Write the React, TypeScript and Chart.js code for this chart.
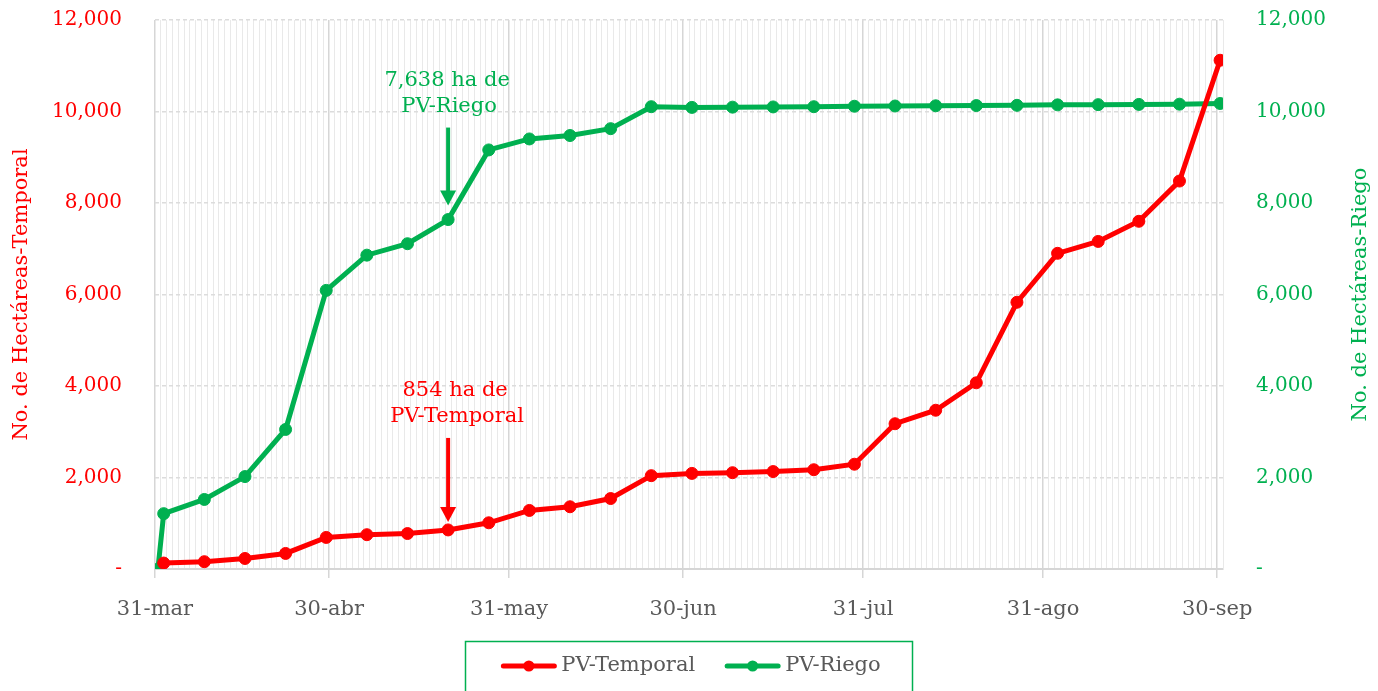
import React, { useEffect, useRef } from 'react';
import { Chart, registerables } from 'chart.js';

Chart.register(...registerables);

const RED = '#FF0000';
const GREEN = '#00B050';
const GRAY_TEXT = '#595959';
const FONT = 'DejaVu Serif';

// Axis range (date axis, one minor gridline per day)
const AXIS_START = '2023-03-31';
const AXIS_DAYS = 184;

const monthEndDates = ['2023-03-31', '2023-04-30', '2023-05-31', '2023-06-30', '2023-07-31', '2023-08-31', '2023-09-30'];
const monthEndLabels = ['31-mar', '30-abr', '31-may', '30-jun', '31-jul', '31-ago', '30-sep'];

// Report dates
const reportDates = [
  '2023-03-31', '2023-04-01', '2023-04-08', '2023-04-15', '2023-04-22', '2023-04-29',
  '2023-05-06', '2023-05-13', '2023-05-20', '2023-05-27', '2023-06-03', '2023-06-10',
  '2023-06-17', '2023-06-24', '2023-07-01', '2023-07-08', '2023-07-15', '2023-07-22',
  '2023-07-29', '2023-08-05', '2023-08-12', '2023-08-19', '2023-08-26', '2023-09-02',
  '2023-09-09', '2023-09-16', '2023-09-23', '2023-09-30',
];

// Hectares, PV-Temporal (no value on the first date)
const temporalValues: (number | null)[] = [
  null, 130, 160, 230, 340, 690, 750, 775, 854, 1010, 1280, 1360,
  1540, 2040, 2090, 2105, 2130, 2170, 2290, 3175, 3470, 4070, 5830, 6900,
  7160, 7600, 8480, 11120,
];

// Hectares, PV-Riego
const riegoValues: number[] = [
  0, 1210, 1520, 2020, 3050, 6090, 6860, 7110, 7638, 9160, 9400, 9475,
  9625, 10105, 10090, 10095, 10100, 10105, 10115, 10120, 10125, 10130, 10135, 10145,
  10150, 10155, 10160, 10175,
];

const yMin = 0;
const yMax = 12000;
const yStep = 2000;

const seriesNames = ['PV-Temporal', 'PV-Riego'];
const axisTitles = ['No. de Hectáreas-Temporal', 'No. de Hectáreas-Riego'];

const annotationDate = '2023-05-20';
const annotationTexts = {
  riego: ['7,638 ha de', 'PV-Riego'],
  temporal: ['854 ha de', 'PV-Temporal'],
};

const dayOf = (d: string) => Math.round((Date.parse(d) - Date.parse(AXIS_START)) / 86400000);
const majorDays = new Set(monthEndDates.map(dayOf));
const labelByDay = new Map(monthEndDates.map((d, i) => [dayOf(d), monthEndLabels[i]]));

const fmt = (v: number) => (v === 0 ? '-' : v.toLocaleString('en-US'));

const noPad = (scale: any) => {
  scale.paddingTop = 0;
  scale.paddingBottom = 0;
  scale.paddingLeft = 0;
  scale.paddingRight = 0;
};

export default function App() {
  const canvasRef = useRef<HTMLCanvasElement | null>(null);

  useEffect(() => {
    if (!canvasRef.current) return;

    const temporalData = reportDates
      .map((d, i) => ({ x: dayOf(d) + 0.5, y: temporalValues[i] }))
      .filter((p) => p.y !== null);
    const riegoData = reportDates.map((d, i) => ({ x: dayOf(d) + 0.5, y: riegoValues[i] }));

    const annotationPlugin = {
      id: 'arrowNotes',
      afterDatasetsDraw(chart: any) {
        const { ctx, scales } = chart;
        const idx = reportDates.indexOf(annotationDate);
        const notes = [
          { axis: 'y1', value: riegoValues[idx], lines: annotationTexts.riego, color: GREEN, gap: 14, len: 78, dx: 1 },
          { axis: 'y', value: temporalValues[idx] as number, lines: annotationTexts.temporal, color: RED, gap: 8, len: 84, dx: 9 },
        ];
        ctx.save();
        notes.forEach((n) => {
          const x = scales.x.getPixelForValue(dayOf(annotationDate) + 0.5);
          const y = scales[n.axis].getPixelForValue(n.value);
          const tip = y - n.gap;
          const top = tip - n.len;
          const headH = 15;
          const headW = 8;
          ctx.strokeStyle = n.color;
          ctx.fillStyle = n.color;
          ctx.lineWidth = 4;
          ctx.beginPath();
          ctx.moveTo(x, top);
          ctx.lineTo(x, tip - headH + 2);
          ctx.stroke();
          ctx.beginPath();
          ctx.moveTo(x - headW, tip - headH);
          ctx.lineTo(x + headW, tip - headH);
          ctx.lineTo(x, tip);
          ctx.closePath();
          ctx.fill();
          ctx.font = `21px "${FONT}"`;
          ctx.textAlign = 'center';
          ctx.textBaseline = 'middle';
          ctx.fillText(n.lines[1], x + n.dx, top - 21);
          ctx.fillText(n.lines[0], x + n.dx - 2, top - 47);
        });
        ctx.restore();
      },
    };

    const rightTitlePlugin = {
      id: 'rightTitle',
      afterDraw(chart: any) {
        const { ctx, chartArea } = chart;
        ctx.save();
        ctx.translate(1361, (chartArea.top + chartArea.bottom) / 2);
        ctx.rotate(-Math.PI / 2);
        ctx.font = `21px "${FONT}"`;
        ctx.fillStyle = GREEN;
        ctx.textAlign = 'center';
        ctx.textBaseline = 'middle';
        ctx.fillText(axisTitles[1], 0, 0);
        ctx.restore();
      },
    };

    const legendPlugin = {
      id: 'boxLegend',
      afterDraw(chart: any) {
        const { ctx, width } = chart;
        const colors = [RED, GREEN];
        ctx.save();
        ctx.font = `21px "${FONT}"`;
        const lineLen = 55;
        const textGap = 5;
        const itemGap = 30;
        const widths = seriesNames.map((s) => ctx.measureText(s).width);
        const total = widths.reduce((a, w) => a + lineLen + textGap + w, 0) + itemGap;
        const cx = width / 2;
        const boxL = 465.5;
        const boxR = 912.5;
        ctx.strokeStyle = GREEN;
        ctx.lineWidth = 1.5;
        ctx.strokeRect(boxL, 641.5, boxR - boxL, 100);
        let x = cx - total / 2 + 2;
        const y = 666;
        seriesNames.forEach((s, i) => {
          ctx.strokeStyle = colors[i];
          ctx.fillStyle = colors[i];
          ctx.lineWidth = 5;
          ctx.lineCap = 'round';
          ctx.beginPath();
          ctx.moveTo(x + 2, y);
          ctx.lineTo(x + lineLen - 2, y);
          ctx.stroke();
          ctx.beginPath();
          ctx.arc(x + lineLen / 2, y, 5.5, 0, Math.PI * 2);
          ctx.fill();
          ctx.fillStyle = GRAY_TEXT;
          ctx.textAlign = 'left';
          ctx.textBaseline = 'middle';
          ctx.fillText(s, x + lineLen + textGap, y);
          x += lineLen + textGap + widths[i] + itemGap;
        });
        ctx.restore();
      },
    };

    const chart = new Chart(canvasRef.current, {
      type: 'line',
      data: {
        datasets: [
          {
            label: seriesNames[0],
            data: temporalData as any,
            yAxisID: 'y',
            borderColor: RED,
            backgroundColor: RED,
            borderWidth: 5,
            pointRadius: 6,
            pointBorderWidth: 1,
            pointBackgroundColor: RED,
            pointBorderColor: RED,
            tension: 0,
          },
          {
            label: seriesNames[1],
            data: riegoData as any,
            yAxisID: 'y1',
            borderColor: GREEN,
            backgroundColor: GREEN,
            borderWidth: 5,
            pointRadius: 6,
            pointBorderWidth: 1,
            pointBackgroundColor: GREEN,
            pointBorderColor: GREEN,
            tension: 0,
          },
        ],
      },
      options: {
        responsive: false,
        animation: false,
        events: [],
        layout: { padding: { top: 20, left: 0, right: 0, bottom: 0 } },
        plugins: {
          legend: { display: false },
          tooltip: { enabled: false },
        },
        scales: {
          x: {
            type: 'linear',
            min: 0,
            max: AXIS_DAYS,
            afterBuildTicks: (scale: any) => {
              scale.ticks = Array.from({ length: AXIS_DAYS + 1 }, (_, i) => ({ value: i }));
            },
            afterFit: (scale: any) => {
              scale.height = 122;
              noPad(scale);
            },
            ticks: {
              autoSkip: false,
              maxRotation: 0,
              minRotation: 0,
              padding: 19,
              color: GRAY_TEXT,
              font: { family: FONT, size: 21 },
              callback: (v: any) => labelByDay.get(Number(v)) ?? '',
            },
            grid: {
              color: (c: any) => (c.tick && majorDays.has(c.tick.value) ? '#d6d6d6' : '#e9e9e9'),
              lineWidth: (c: any) => (c.tick && majorDays.has(c.tick.value) ? 1.5 : 1),
              tickColor: (c: any) => (c.tick && majorDays.has(c.tick.value) ? '#d6d6d6' : 'rgba(0,0,0,0)'),
              tickLength: 9,
              drawTicks: true,
            },
            border: { display: true, color: '#d6d6d6', width: 2 },
          },
          y: {
            type: 'linear',
            position: 'left',
            min: yMin,
            max: yMax,
            afterFit: (scale: any) => {
              scale.width = 155;
              noPad(scale);
            },
            ticks: {
              stepSize: yStep,
              padding: 33,
              color: RED,
              font: { family: FONT, size: 20 },
              callback: (v: any) => fmt(Number(v)),
            },
            grid: { color: '#dcdcdc', lineWidth: 1.5, drawTicks: false },
            border: { display: false, dash: [4, 3] },
            title: {
              display: true,
              text: axisTitles[0],
              color: RED,
              font: { family: FONT, size: 21 },
              padding: { top: 9, bottom: 0 },
            },
          },
          y1: {
            type: 'linear',
            position: 'right',
            min: yMin,
            max: yMax,
            afterFit: (scale: any) => {
              scale.width = 155;
              noPad(scale);
            },
            ticks: {
              stepSize: yStep,
              padding: 33,
              color: GREEN,
              font: { family: FONT, size: 20 },
              callback: (v: any) => fmt(Number(v)),
            },
            grid: { drawOnChartArea: false, drawTicks: false },
            border: { display: false },
            title: { display: false },
          },
        },
      } as any,
      plugins: [annotationPlugin, rightTitlePlugin, legendPlugin],
    });

    return () => chart.destroy();
  }, []);

  return (
    <div style={{ position: 'fixed', left: 0, top: 0, width: 1378, height: 691, background: '#fff', overflow: 'hidden' }}>
      <canvas ref={canvasRef} width={1378} height={691} style={{ display: 'block' }} />
    </div>
  );
}
